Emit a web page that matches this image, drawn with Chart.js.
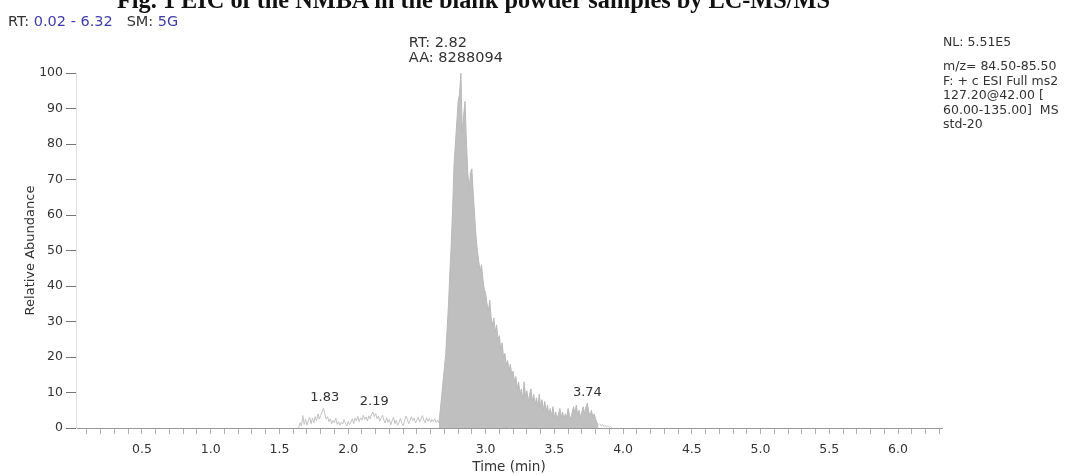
<!DOCTYPE html>
<html>
<head>
<meta charset="utf-8">
<script src="https://cdn.jsdelivr.net/npm/chart.js@4.4.0/dist/chart.umd.min.js"></script>
<style>
html, body { margin: 0; padding: 0; background: #fff; }
#wrap { position: relative; width: 1081px; height: 476px; overflow: hidden; }
#myChart { position: absolute; left: 0; top: 0; }
#title { position: absolute; left: 117px; top: -14px; font: bold 24.3px "Liberation Serif", serif; line-height: normal; color: #111; white-space: pre; }
.txt { position: absolute; font-family: "DejaVu Sans", sans-serif; color: #333; white-space: pre; }
.blue { color: #3d3da8; }
</style>
</head>
<body>
<div id="wrap">
<canvas id="myChart" width="1081" height="476"></canvas>
<div id="title">Fig. 1 EIC of the NMBA in the blank powder samples by LC-MS/MS</div>
<div class="txt" style="left:8px; top:13px; font-size:14.5px;">RT: <span class="blue">0.02 - 6.32</span>   SM: <span class="blue">5G</span></div>
<div class="txt" style="left:943px; top:34px; font-size:12.5px;">NL: 5.51E5</div>
<div class="txt" style="left:943px; top:59px; font-size:12.5px; line-height:14.6px;">m/z= 84.50-85.50
F: + c ESI Full ms2
127.20@42.00 [
60.00-135.00]  MS
std-20</div>
</div>
<script>
// scan grid of the trace (min)
const step = 0.01;

// baseline noise before the peak, 1.64 - 2.66 min
const noiseStart = 1.64;
const noiseValues = [
    0, 1.5, 0.5, 3.5, 1, 2.5, 0.8, 2, 3, 1.2,
    2.8, 1.5, 3.2, 2, 4, 2.5, 3.5, 4.5, 5.6, 4,
    2.5, 3.2, 1.8, 2.6, 1.2, 2.2, 1.5, 2.8, 1, 1.8,
    0.8, 1.6, 1.1, 2.4, 1.3, 0.6, 1.8, 0.9, 1.6, 2.6,
    1.2, 2.8, 2, 3.3, 1.8, 2.9, 2.2, 3.6, 2.4, 3.1,
    2, 3.4, 2.6, 3.8, 4.5, 3.2, 4.1, 2.6, 3.4, 1.9,
    2.8, 3.6, 2.2, 1.4, 2.9, 1.6, 2.4, 0.9, 2.1, 3,
    1.2, 2.2, 0.8, 1.5, 2.7, 1.3, 0.7, 1.9, 3.4, 2.5,
    1.2, 2, 3.2, 2.1, 2.8, 1.4, 2.3, 3, 1.7, 2.6,
    3.5, 2.2, 1.5, 2.9, 1.9, 2.7, 1.6, 2.4, 1.8, 2.6,
    1.5, 2.2, 1.5
];

// integrated peak, 2.66 - 3.82 min
const peakStart = 2.66;
const peakValues = [
    1.5, 5, 9, 13, 17, 21, 28, 35, 44, 52,
    62, 74, 80, 86, 92, 94, 100, 83, 88, 92,
    81, 72, 67, 72, 73, 66, 60, 54, 50, 47,
    44, 46, 42, 39, 38, 35, 33, 36, 31, 29,
    31, 27, 29, 25, 26, 22, 24, 20, 21, 18,
    19, 16, 18, 15, 16, 13, 14.5, 11, 13, 9.5,
    11, 8, 13, 9, 10.5, 7.5, 9.5, 11, 7.5, 9.5,
    6.5, 8.5, 6, 9.5, 6, 8, 5, 7.5, 4.5, 6.5,
    3.5, 5.5, 3.5, 6, 3, 4.5, 2.5, 4, 5.5, 3,
    4.5, 2.5, 4, 3, 5.5, 3.5, 2.5, 4.5, 6, 4,
    6.5, 3.5, 5, 3, 4.5, 6, 4, 6, 7, 4.5,
    3.5, 5, 3, 4, 2.5, 1.5, 0.8
];

// trace after the peak, 3.83 - 3.92 min
const tailStart = 3.83;
const tailValues = [1.2, 0.6, 1, 0.4, 0.8, 0.3, 0.6, 0.2, 0.4, 0];

// labelled maxima
const labelTimes = [1.83, 2.19, 3.74];
const apexTime = 2.82;
const apexArea = 8288094;

// axis
const xMin = 0.02;
const xMax = 6.32;
const yTicks = [0, 10, 20, 30, 40, 50, 60, 70, 80, 90, 100];

function toPoints(start, values) {
    return values.map((v, i) => ({ x: +(start + i * step).toFixed(2), y: v }));
}

const noisePts = toPoints(noiseStart, noiseValues);
const peakPts = toPoints(peakStart, peakValues);
const tailPts = toPoints(tailStart, tailValues);
const allPts = noisePts.concat(peakPts, tailPts);

// highest point of the trace close to t
function localMax(t) {
    let m = 0;
    allPts.forEach(p => { if (Math.abs(p.x - t) <= 0.015 && p.y > m) m = p.y; });
    return m;
}

const labelPlugin = {
    id: 'peakLabels',
    afterDatasetsDraw(chart) {
        const ctx = chart.ctx;
        const xs = chart.scales.x;
        const ys = chart.scales.y;
        ctx.save();
        ctx.fillStyle = '#333';
        ctx.font = '13px "DejaVu Sans"';
        ctx.textAlign = 'center';
        ctx.textBaseline = 'alphabetic';
        labelTimes.forEach(t => {
            const px = xs.getPixelForValue(t);
            const py = ys.getPixelForValue(localMax(t));
            ctx.fillText(t.toFixed(2), px, py - 7);
        });
        // apex label block, left aligned a little left of the apex
        ctx.font = '14.5px "DejaVu Sans"';
        ctx.textAlign = 'left';
        const line1 = 'RT: ' + apexTime.toFixed(2);
        const line2 = 'AA: ' + apexArea;
        const w = Math.max(ctx.measureText(line1).width, ctx.measureText(line2).width);
        const ax = xs.getPixelForValue(apexTime) - w / 2 - 5;
        const ay = ys.getPixelForValue(localMax(apexTime));
        ctx.fillText(line1, ax, ay - 26);
        ctx.fillText(line2, ax, ay - 11);
        ctx.restore();
    }
};

var ctx = document.getElementById('myChart').getContext('2d');

var myChart = new Chart(ctx, {
    type: 'line',
    data: {
        datasets: [
            {
                label: 'noise',
                data: noisePts,
                borderColor: '#c2c2c2',
                borderWidth: 1,
                pointRadius: 0,
                fill: false,
                tension: 0
            },
            {
                label: 'peak',
                data: peakPts,
                borderColor: '#b9b9b9',
                backgroundColor: '#bfbfbf',
                borderWidth: 1,
                pointRadius: 0,
                fill: 'origin',
                tension: 0
            },
            {
                label: 'tail',
                data: tailPts,
                borderColor: '#c8c8c8',
                borderWidth: 1,
                pointRadius: 0,
                fill: false,
                tension: 0
            },
            {
                label: 'baseline',
                data: [{ x: peakStart, y: 0 }, { x: peakPts[peakPts.length - 1].x, y: 0 }],
                borderColor: '#8a8ad0',
                borderWidth: 1,
                pointRadius: 0,
                fill: false
            }
        ]
    },
    options: {
        responsive: false,
        animation: false,
        devicePixelRatio: 1,
        layout: { padding: { top: 73, right: 139, bottom: 0, left: 0 } },
        plugins: {
            legend: { display: false },
            tooltip: { enabled: false }
        },
        scales: {
            x: {
                type: 'linear',
                min: xMin,
                max: xMax,
                afterFit: (scale) => { scale.height = 48; },
                afterBuildTicks: (scale) => {
                    const ticks = [];
                    for (let i = 1; i <= 63; i++) ticks.push({ value: i / 10 });
                    scale.ticks = ticks;
                },
                ticks: {
                    autoSkip: false,
                    maxRotation: 0,
                    padding: 8,
                    color: '#333',
                    font: { family: 'DejaVu Sans', size: 12.5 },
                    callback: function (value) {
                        const v = Math.round(value * 10);
                        return v % 5 === 0 ? (v / 10).toFixed(1) : '';
                    }
                },
                grid: { drawOnChartArea: false, drawTicks: true, tickLength: 6, color: '#b0b0b0' },
                border: { display: true, color: '#9a9a9a' },
                title: {
                    display: true,
                    text: 'Time (min)',
                    color: '#333',
                    font: { family: 'DejaVu Sans', size: 13.5 },
                    padding: { top: 0, bottom: 0 }
                }
            },
            y: {
                min: 0,
                max: 100,
                afterFit: (scale) => { scale.width = 76; },
                afterBuildTicks: (scale) => {
                    scale.ticks = yTicks.map(v => ({ value: v }));
                },
                ticks: {
                    padding: 3,
                    color: '#333',
                    font: { family: 'DejaVu Sans', size: 12.5 }
                },
                grid: { drawOnChartArea: false, drawTicks: true, tickLength: 10, color: '#777' },
                border: { display: true, color: '#e2e2e2' },
                title: {
                    display: true,
                    text: 'Relative Abundance',
                    color: '#333',
                    font: { family: 'DejaVu Sans', size: 13 },
                    padding: { top: 23, bottom: 0 }
                }
            }
        }
    },
    plugins: [labelPlugin]
});
</script>
</body>
</html>
